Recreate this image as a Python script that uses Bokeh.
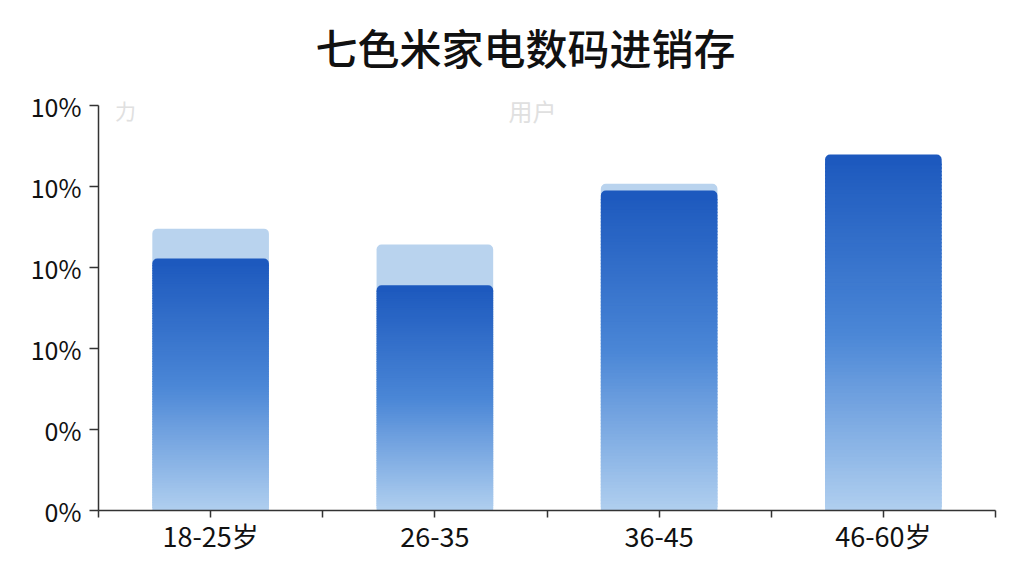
import numpy as np
from bokeh.plotting import figure
from bokeh.models import Range1d, FixedTicker, Label
from bokeh.embed import file_html
from bokeh.resources import INLINE

title_text = "七色米家电数码进销存"
categories = ["18-25岁", "26-35", "36-45", "46-60岁"]
back_values = [6.96, 6.57, 8.07, 8.70]
front_values = [6.22, 5.56, 7.90, 8.79]
y_ticks = [0, 2, 4, 6, 8, 10]
y_tick_labels = ["0%", "0%", "10%", "10%", "10%", "10%"]
legend_texts = ["力", "用户"]

FONT = "Noto Sans CJK SC"
BAR_W = 0.52
Y_MAX = 10
Y_TOP = 12.593   # extra headroom above the axis for the title

p = figure(width=1016, height=568, output_backend="svg", toolbar_location=None,
           x_range=Range1d(-0.5, len(categories) - 0.5), y_range=Range1d(0, Y_TOP),
           min_border_left=98, min_border_right=21, min_border_top=0, min_border_bottom=58)
p.title.text = ""
p.title.standoff = 0
p.outline_line_color = None
p.grid.grid_line_color = None
p.background_fill_color = "white"

xs = list(range(len(categories)))

# background (light) bars
p.vbar(x=xs, top=back_values, bottom=0, width=BAR_W, fill_color="#b9d3ee",
       line_color=None, border_radius=5)

# front bars with vertical gradient
stops_t = [0.0, 0.5, 1.0]
stops_c = np.array([[176, 207, 239], [74, 134, 214], [28, 88, 189]])

def grad(t):
    return "#%02x%02x%02x" % tuple(int(round(np.interp(t, stops_t, stops_c[:, j]))) for j in range(3))

N = 100
L, R, B, T, C = [], [], [], [], []
top_x, top_b, top_t, top_c = [], [], [], []
for x, v in zip(xs, front_values):
    edges = np.linspace(0, v, N + 1)
    for k in range(N - 3):
        t = (k + 0.5) / N
        L.append(x - BAR_W / 2); R.append(x + BAR_W / 2)
        B.append(edges[k]); T.append(edges[k + 1] + v / N * 0.4); C.append(grad(t))
    top_x.append(x); top_b.append(edges[N - 3]); top_t.append(edges[N]); top_c.append(grad(0.985))

p.quad(left=L, right=R, bottom=B, top=T, fill_color=C, line_color=None)
p.vbar(x=top_x, bottom=top_b, top=top_t, width=BAR_W, fill_color=top_c, line_color=None,
       border_radius=(5, 5, 0, 0))

# faint legend watermark texts
p.add_layout(Label(x=-0.38, y=9.88, text=legend_texts[0], text_font=FONT, text_font_size="21px",
                   text_color="#e0e0e0", text_baseline="middle", text_align="center"))
p.add_layout(Label(x=1.435, y=9.88, text=legend_texts[1], text_font=FONT, text_font_size="24px",
                   text_color="#e0e0e0", text_baseline="middle", text_align="center"))

# title, placed in the headroom above the axis
p.add_layout(Label(x=1.404, y=11.457, text=title_text,
                   text_font="'Noto Sans CJK SC Medium', 'Noto Sans CJK SC'",
                   text_font_size="42px", text_font_style="normal", text_color="#111111",
                   text_align="center", text_baseline="middle"))

# axes
p.xaxis.ticker = FixedTicker(ticks=xs, minor_ticks=[i - 0.5 for i in range(len(categories) + 1)])
p.xaxis.major_label_overrides = {i: c for i, c in zip(xs, categories)}
p.yaxis.ticker = FixedTicker(ticks=y_ticks, minor_ticks=[])
p.yaxis.major_label_overrides = {t: s for t, s in zip(y_ticks, y_tick_labels)}
p.yaxis.bounds = (0, Y_MAX)

for ax in (p.xaxis[0], p.yaxis[0]):
    ax.axis_line_color = "#333333"
    ax.axis_line_width = 1.5
    ax.major_tick_line_color = "#333333"
    ax.major_tick_line_width = 1.5
    ax.minor_tick_line_color = "#333333"
    ax.minor_tick_line_width = 1.5
    ax.major_tick_in = 0
    ax.minor_tick_in = 0
    ax.major_label_text_font = FONT
    ax.major_label_text_color = "#111111"

p.xaxis.major_label_text_font_size = "27px"
p.yaxis.major_label_text_font_size = "25px"
p.xaxis.major_tick_out = 7
p.xaxis.minor_tick_out = 7
p.xaxis.major_label_standoff = -2
p.yaxis.major_tick_out = 9
p.yaxis.major_label_standoff = 8

open("out.html", "w").write(file_html(p, INLINE))
